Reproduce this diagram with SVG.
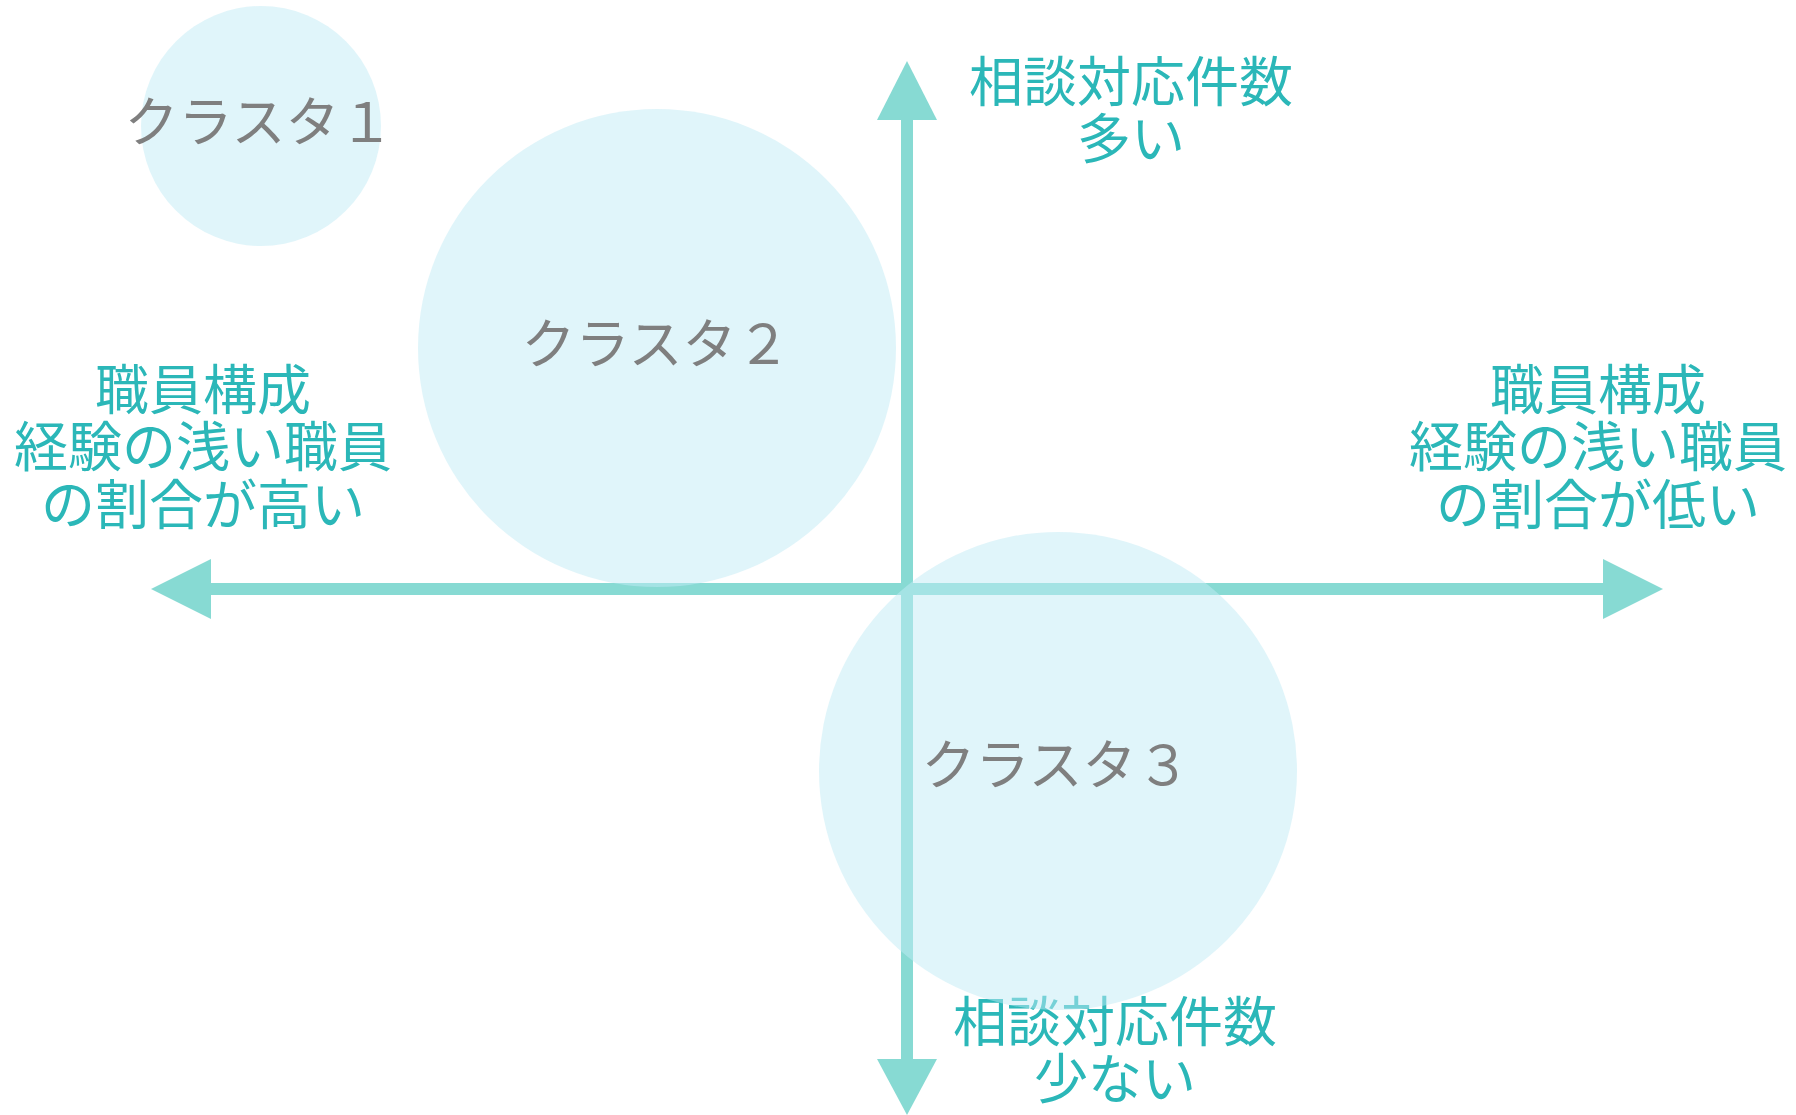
<svg xmlns="http://www.w3.org/2000/svg" width="1796" height="1115" viewBox="0 0 1796 1115">
<style>
.lbl{font-family:"Noto Sans CJK JP","Noto Sans CJK SC",sans-serif;font-size:54px;fill:#2bb7b8;text-anchor:middle}
.cl{font-family:"Noto Sans CJK JP","Noto Sans CJK SC",sans-serif;font-size:54px;fill:#7f7f7f;text-anchor:middle}
.bub{fill:#c1ebf5;fill-opacity:0.5}
.ax{stroke:#87dad3;stroke-width:12;fill:none}
.ah{fill:#87dad3}
</style>
<rect width="1796" height="1115" fill="#ffffff"/>
<g id="connectors">
<line class="ax" x1="907" y1="115" x2="907" y2="1062"/>
<line class="ax" x1="205" y1="589" x2="1608" y2="589"/>
<polygon class="ah" points="907,61 877,120 937,120"/>
<polygon class="ah" points="907,1115 877,1059 937,1059"/>
<polygon class="ah" points="151,589 211,559 211,619"/>
<polygon class="ah" points="1663,589 1603,559 1603,619"/>
</g>
<g id="label-top">
<text class="lbl" x="1131" y="102">相談対応件数</text>
<text class="lbl" x="1131" y="159">多い</text>
</g>
<g id="label-bottom">
<text class="lbl" x="1115" y="1042">相談対応件数</text>
<text class="lbl" x="1115" y="1099">少ない</text>
</g>
<g id="label-left">
<text class="lbl" x="203" y="410">職員構成</text>
<text class="lbl" x="203" y="467">経験の浅い職員</text>
<text class="lbl" x="203" y="525">の割合が高い</text>
</g>
<g id="label-right">
<text class="lbl" x="1598" y="410">職員構成</text>
<text class="lbl" x="1598" y="467">経験の浅い職員</text>
<text class="lbl" x="1598" y="525">の割合が低い</text>
</g>
<g id="cluster1">
<circle class="bub" cx="261" cy="126" r="120"/>
<text class="cl" x="259" y="142">クラスタ１</text>
</g>
<g id="cluster2">
<circle class="bub" cx="657" cy="348" r="239"/>
<text class="cl" x="656" y="364">クラスタ２</text>
</g>
<g id="cluster3">
<circle class="bub" cx="1058" cy="771" r="239"/>
<text class="cl" x="1056" y="785">クラスタ３</text>
</g>
</svg>
